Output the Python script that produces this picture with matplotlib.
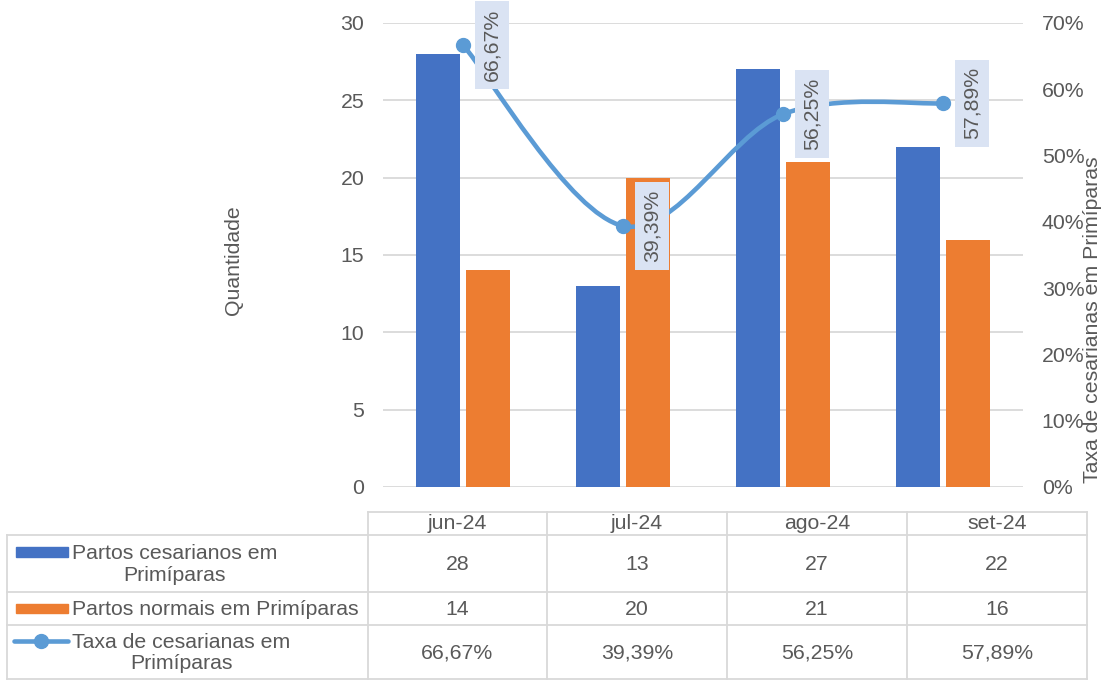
import numpy as np
import matplotlib.pyplot as plt
from matplotlib.path import Path
from matplotlib.patches import PathPatch, Rectangle
from matplotlib.lines import Line2D
from matplotlib.ticker import FuncFormatter

plt.rcParams['font.family'] = ['Liberation Sans', 'DejaVu Sans']

# dados
meses = ['jun-24', 'jul-24', 'ago-24', 'set-24']
cesarianos = [28, 13, 27, 22]
normais = [14, 20, 21, 16]
taxa = [0.6667, 0.3939, 0.5625, 0.5789]
series = ['Partos cesarianos em\nPrimíparas',
          'Partos normais em Primíparas',
          'Taxa de cesarianas em\nPrimíparas']

AZUL = '#4472C4'
LARANJA = '#ED7D31'
AZUL_CLARO = '#5B9BD5'
CINZA_TXT = '#595959'
CINZA_GRADE = '#D9D9D9'
FS = 15.3

W, H = 1109, 680
fig = plt.figure(figsize=(W / 100, H / 100), dpi=100)


def fx(px):
    return px / W


def fy(py):
    return 1 - py / H


def pct(v):
    return f"{v * 100:.2f}%".replace('.', ',')


def suave(xs, ys):
    # curva de Bezier estilo "linha suavizada" do Excel
    pts = np.column_stack([xs, ys]).astype(float)
    n = len(pts)
    verts = [pts[0]]
    codes = [Path.MOVETO]
    for i in range(n - 1):
        p_ant = pts[max(i - 1, 0)]
        p0 = pts[i]
        p1 = pts[i + 1]
        p_prox = pts[min(i + 2, n - 1)]
        verts += [p0 + (p1 - p_ant) / 6, p1 - (p_prox - p0) / 6, p1]
        codes += [Path.CURVE4] * 3
    return Path(verts, codes)


# grafico principal
ax = fig.add_axes([fx(383), fy(487), fx(1023) - fx(383), fy(23) - fy(487)])
x = np.arange(len(meses))
ax.bar(x - 0.156, cesarianos, width=0.28, color=AZUL, zorder=2)
ax.bar(x + 0.156, normais, width=0.28, color=LARANJA, zorder=2)
ax.set_xlim(-0.5, len(meses) - 0.5)
ax.set_ylim(0, 30)
ax.set_yticks(range(0, 31, 5))
ax.yaxis.grid(True, color=CINZA_GRADE, linewidth=1.3, zorder=0)
ax.set_axisbelow(True)
ax.set_xticks([])
for s in ax.spines.values():
    s.set_visible(False)
ax.tick_params(axis='y', length=0, pad=13.5, labelsize=FS, labelcolor=CINZA_TXT)
ax.patch.set_visible(False)

ax2 = ax.twinx()
ax2.set_ylim(0, 0.7)
ax2.set_yticks(np.arange(0, 0.71, 0.1))
ax2.yaxis.set_major_formatter(FuncFormatter(lambda v, p: f"{v * 100:.0f}%"))
ax2.tick_params(axis='y', length=0, pad=13.5, labelsize=FS, labelcolor=CINZA_TXT)
for s in ax2.spines.values():
    s.set_visible(False)
ax2.add_patch(PathPatch(suave(x, taxa), facecolor='none', edgecolor=AZUL_CLARO,
                        linewidth=3.3, capstyle='round', zorder=3))
ax2.plot(x, taxa, 'o', color=AZUL_CLARO, markersize=10, zorder=4)
for xi, v in zip(x, taxa):
    ax2.annotate(pct(v), (xi, v), xytext=(14, 0), textcoords='offset points',
                 rotation=90, ha='left', va='center', fontsize=FS, color=CINZA_TXT,
                 bbox=dict(boxstyle='square,pad=0.36', fc='#DAE3F3', ec='none'),
                 zorder=5)

fig.text(fx(233), fy(260), 'Quantidade', rotation=90, ha='center', va='center',
         fontsize=FS, color=CINZA_TXT)
fig.text(fx(1093), fy(320), 'Taxa de cesarianas em Primíparas', rotation=90,
         ha='center', va='center', fontsize=FS, color=CINZA_TXT)

# tabela de dados
tb = fig.add_axes([0, 0, 1, 1], zorder=-1)
tb.set_xlim(0, W)
tb.set_ylim(H, 0)
tb.axis('off')

col_x = [368, 547, 727, 907, 1087]
row_y = [512, 535, 592, 625, 679]
lc = dict(color=CINZA_GRADE, linewidth=1.3)
tb.add_line(Line2D([col_x[0], col_x[-1]], [row_y[0], row_y[0]], **lc))
for yy in row_y[1:]:
    tb.add_line(Line2D([7, col_x[-1]], [yy, yy], **lc))
for xx in col_x:
    tb.add_line(Line2D([xx, xx], [row_y[0], row_y[-1]], **lc))
tb.add_line(Line2D([7, 7], [row_y[1], row_y[-1]], **lc))

centros = [(a + b) / 2 for a, b in zip(col_x[:-1], col_x[1:])]
linhas = [[str(v) for v in cesarianos], [str(v) for v in normais], [pct(v) for v in taxa]]
meio_linhas = [(a + b) / 2 for a, b in zip(row_y[1:-1], row_y[2:])]
for cx, m in zip(centros, meses):
    tb.text(cx, (row_y[0] + row_y[1]) / 2, m, ha='center', va='center',
            fontsize=FS, color=CINZA_TXT)
for cy, valores in zip(meio_linhas, linhas):
    for cx, t in zip(centros, valores):
        tb.text(cx, cy + 1, t, ha='center', va='center', fontsize=FS, color=CINZA_TXT)

# legendas na tabela
tb.add_patch(Rectangle((16, 547), 52, 10, color=AZUL))
tb.add_patch(Rectangle((16, 604), 52, 9, color=LARANJA))
tb.add_line(Line2D([14, 68], [641, 641], color=AZUL_CLARO, linewidth=3.3,
                   solid_capstyle='round'))
tb.add_line(Line2D([41], [641], marker='o', color=AZUL_CLARO, markersize=10))
for cy, nome in zip(meio_linhas, series):
    tb.text(72, cy + 1, nome, ha='left', va='center', multialignment='center',
            fontsize=FS, color=CINZA_TXT, linespacing=1.15)

fig.savefig('out.png', dpi=100)
